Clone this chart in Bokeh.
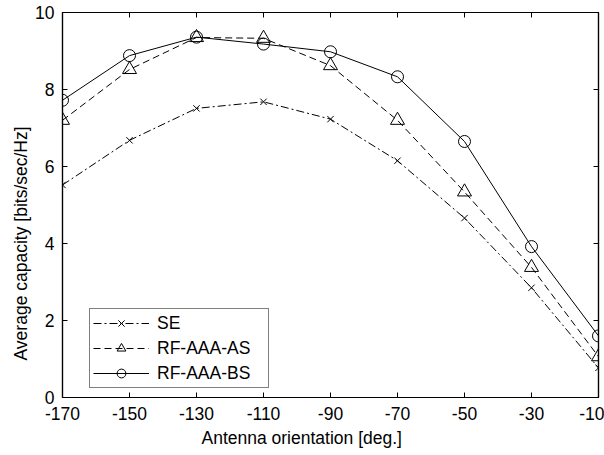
from bokeh.plotting import figure
from bokeh.models import (LinearAxis, FixedTicker, Range1d, Legend, LegendItem,
                          CustomJSTickFormatter, Title)
from bokeh.embed import file_html
from bokeh.resources import INLINE

angles = [-170, -150, -130, -110, -90, -70, -50, -30, -10]
se = [5.52, 6.68, 7.51, 7.68, 7.23, 6.15, 4.66, 2.85, 0.77]
rf_as = [7.20, 8.52, 9.35, 9.33, 8.62, 7.20, 5.34, 3.38, 1.06]
rf_bs = [7.72, 8.88, 9.36, 9.18, 8.98, 8.33, 6.65, 3.92, 1.60]
x_ticks = [-170, -150, -130, -110, -90, -70, -50, -30, -10]
x_tick_labels = ["-170", "-150", "-130", "-110", "-90", "-70", "-50", "-30", "-10"]
y_ticks = [0, 2, 4, 6, 8, 10]
y_tick_labels = ["0", "2", "4", "6", "8", "10"]
x_title = "Antenna orientation [deg.]"
y_title = "Average capacity [bits/sec/Hz]"

FONT = "Liberation Sans"
FS = "17.5px"

p = figure(width=604, height=455, output_backend="svg", toolbar_location=None,
           x_range=Range1d(-170, -10), y_range=Range1d(0, 10),
           min_border_left=62, min_border_right=6, min_border_top=12, min_border_bottom=58)
p.grid.visible = False
p.outline_line_color = "black"
p.outline_line_width = 1.2
p.background_fill_color = "white"
p.border_fill_color = "white"

for ax in (p.xaxis[0], p.yaxis[0]):
    ax.major_tick_in = 5
    ax.major_tick_out = 0
    ax.minor_tick_in = 0
    ax.minor_tick_out = 0
    ax.axis_line_color = "black"
    ax.axis_line_width = 1.2
    ax.major_label_text_font = FONT
    ax.major_label_text_font_size = FS
    ax.major_label_text_color = "black"

p.xaxis[0].ticker = FixedTicker(ticks=x_ticks)
p.yaxis[0].ticker = FixedTicker(ticks=y_ticks)
p.xaxis[0].major_label_overrides = dict(zip(x_ticks, x_tick_labels))
p.yaxis[0].major_label_overrides = dict(zip(y_ticks, y_tick_labels))
p.xaxis[0].major_label_standoff = 9
p.yaxis[0].major_label_standoff = 8

blank = CustomJSTickFormatter(code="return '';")
top = LinearAxis(ticker=FixedTicker(ticks=x_ticks), formatter=blank, major_tick_in=5,
                 major_tick_out=0, minor_tick_in=0, minor_tick_out=0,
                 major_label_standoff=0, axis_line_width=1.2)
right = LinearAxis(ticker=FixedTicker(ticks=y_ticks), formatter=blank, major_tick_in=5,
                   major_tick_out=0, minor_tick_in=0, minor_tick_out=0,
                   major_label_standoff=0, axis_line_width=1.2)
p.add_layout(top, "above")
p.add_layout(right, "right")

# axis titles, shifted off the frame centre as in the reference
p.add_layout(Title(text=x_title, align="left", offset=139, standoff=6,
                   text_font=FONT, text_font_size=FS, text_font_style="normal",
                   text_color="black"), "below")
p.add_layout(Title(text=y_title, align="left", offset=37, standoff=4,
                   text_font=FONT, text_font_size=FS, text_font_style="normal",
                   text_color="black"), "left")

l1 = p.line(angles, se, line_color="black", line_width=1, line_dash="8 3 2 3")
m1 = p.scatter(angles, se, marker="x", size=9, line_color="black", line_width=1)
l2 = p.line(angles, rf_as, line_color="black", line_width=1, line_dash="7 4")
m2 = p.scatter(angles, rf_as, marker="triangle", size=14, line_color="black",
               fill_color=None, line_width=1)
l3 = p.line(angles, rf_bs, line_color="black", line_width=1)
m3 = p.scatter(angles, rf_bs, marker="circle", size=12, line_color="black",
               fill_color=None, line_width=1)

legend = Legend(items=[
    LegendItem(label="SE", renderers=[l1, m1]),
    LegendItem(label="RF-AAA-AS", renderers=[l2, m2]),
    LegendItem(label="RF-AAA-BS", renderers=[l3, m3]),
], location=(27, 9))
legend.label_text_font = FONT
legend.label_text_font_size = FS
legend.label_text_color = "black"
legend.border_line_color = "black"
legend.border_line_width = 1.2
legend.glyph_width = 56
legend.glyph_height = 22
legend.label_height = 22
legend.label_width = 108
legend.spacing = 3
legend.padding = 3
legend.margin = 0
legend.label_standoff = 8
legend.background_fill_alpha = 1
p.add_layout(legend, "center")

open("out.html", "w").write(file_html(p, INLINE))
